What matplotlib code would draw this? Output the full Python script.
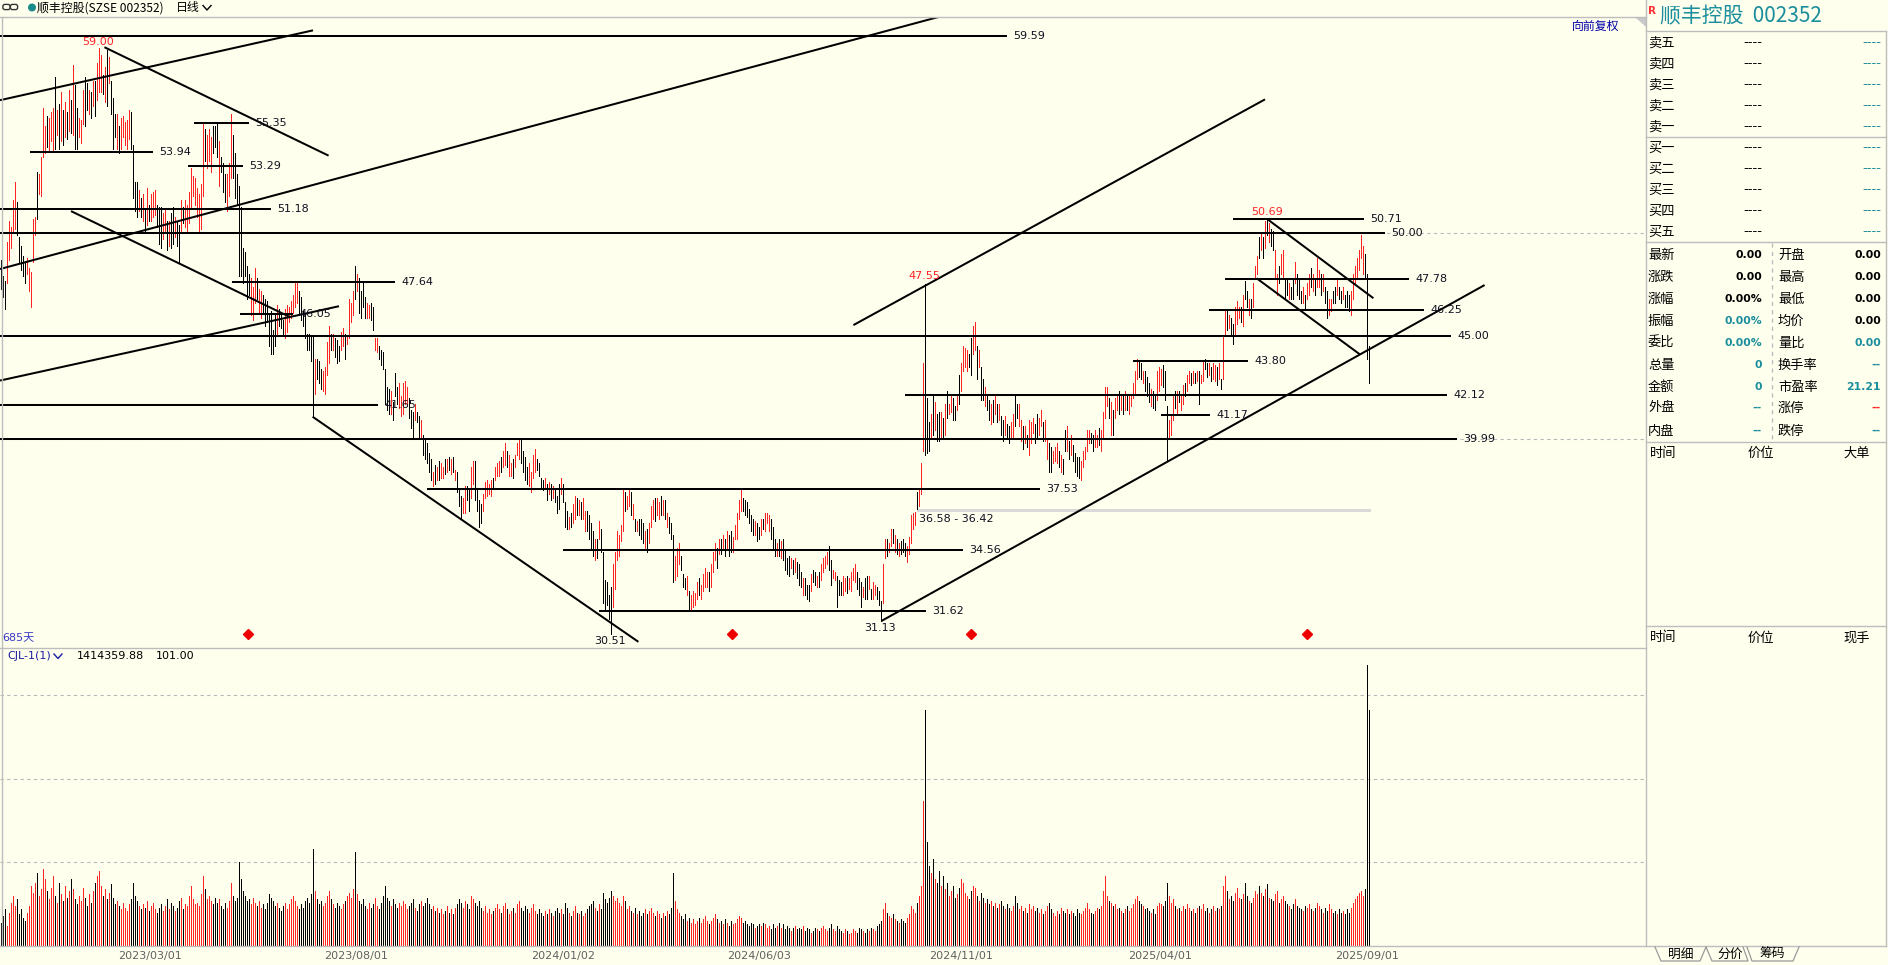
import matplotlib
matplotlib.use('Agg')
import matplotlib.pyplot as plt
from matplotlib.patches import Rectangle, Polygon, FancyBboxPatch, Circle

plt.rcParams['font.family'] = ['DejaVu Sans', 'Noto Sans CJK SC']

# ---------------- data ----------------
lows = [
47.3,46.9,46.3,47.6,48.7,49.3,50.0,50.2,49.9,48.6,
48.2,47.9,47.6,48.0,47.2,46.4,48.6,49.9,50.7,51.9,
51.8,53.7,53.9,54.2,54.0,54.5,54.0,54.1,54.8,54.1,
54.5,54.3,54.7,54.6,55.0,54.9,54.8,54.1,54.1,54.7,
54.4,55.3,55.2,56.0,55.8,55.6,56.2,55.7,56.5,56.9,
56.9,56.8,56.4,56.2,57.3,55.8,54.1,54.7,54.1,53.9,
54.1,54.7,54.3,54.1,54.6,54.1,51.7,51.1,50.8,51.1,
50.8,50.6,50.1,50.4,50.6,50.6,50.8,50.9,50.3,49.5,
49.3,49.7,50.0,49.2,49.4,49.3,49.5,49.8,49.4,48.6,
50.0,50.5,50.3,50.0,50.5,51.2,51.8,51.4,50.8,50.1,
50.2,51.8,53.5,53.2,53.5,53.0,53.9,54.2,53.7,52.3,
53.0,52.0,51.5,51.1,51.8,52.7,52.7,51.7,51.4,47.9,
47.9,47.6,47.9,46.8,47.0,46.0,45.8,46.6,46.8,46.1,
45.9,46.1,45.5,45.7,44.5,44.1,44.1,44.5,45.1,45.5,
45.4,45.0,44.9,45.2,45.7,45.9,46.1,46.4,46.6,46.1,
45.8,45.5,44.9,44.3,44.3,43.8,41.1,42.2,42.9,42.7,
42.4,42.3,42.2,43.1,43.7,44.3,44.3,44.0,43.7,43.8,
44.3,44.5,43.9,44.6,44.9,45.7,46.0,46.8,47.2,46.1,
45.9,46.4,45.9,45.9,45.9,45.8,45.3,44.3,44.2,43.9,
43.6,43.4,41.7,41.4,41.2,41.2,40.9,42.1,41.7,41.5,
41.1,41.2,41.7,41.6,41.0,40.5,40.1,40.9,40.8,40.0,
40.1,39.2,39.0,38.8,38.4,38.0,37.7,37.8,38.0,38.0,
38.1,38.1,38.3,38.4,38.5,38.3,38.4,38.0,37.4,36.7,
36.1,36.4,36.4,37.0,36.5,37.1,37.8,37.0,36.5,35.7,
35.9,36.5,37.1,37.2,37.3,37.2,37.6,38.0,38.2,38.2,
38.4,38.6,38.7,38.6,38.2,38.2,38.1,38.6,39.2,39.0,
38.8,38.4,38.0,37.8,37.7,37.4,38.1,38.4,38.5,38.2,
37.6,37.5,37.6,37.0,37.3,37.0,37.1,36.9,36.4,36.6,
37.3,36.9,35.7,35.6,35.6,35.7,35.9,36.1,36.3,36.3,
36.1,36.1,35.5,35.5,35.1,34.7,34.3,34.1,34.2,35.1,
34.5,32.0,31.7,31.9,31.2,30.51,31.8,32.7,34.1,34.3,
35.0,35.5,36.5,36.6,36.7,36.3,36.1,35.5,35.5,35.3,
35.1,34.9,34.7,34.5,34.9,35.7,36.1,36.0,36.3,36.1,
36.3,36.3,36.1,35.7,35.4,35.1,33.0,33.1,33.3,33.9,
33.6,32.8,32.7,32.4,31.7,31.6,31.8,31.9,32.2,32.4,
32.2,32.6,32.8,32.8,32.6,32.8,33.5,34.1,33.7,34.4,
34.4,34.6,34.3,34.7,34.3,34.5,34.5,35.1,35.1,36.1,
36.5,36.5,36.3,36.2,35.9,35.5,35.3,35.3,35.0,35.1,
35.3,35.6,35.5,35.9,35.5,35.1,34.7,34.3,34.3,34.3,
34.2,34.1,33.6,33.4,33.3,33.7,33.4,33.5,33.2,32.9,
32.8,32.4,32.4,32.2,32.1,32.6,33.0,32.9,32.8,32.8,
33.1,33.5,33.7,33.9,33.6,32.9,33.2,33.1,31.8,32.4,
32.4,32.4,32.6,32.5,32.7,32.6,33.1,33.0,32.7,32.4,
31.8,32.3,32.2,32.2,32.7,32.2,32.2,32.4,32.2,31.9,
31.13,32.0,34.2,34.3,34.5,34.8,34.9,34.5,34.4,34.3,
34.4,34.5,34.3,34.0,34.4,34.9,35.6,35.8,36.58,36.7,
37.3,39.4,39.2,39.3,39.4,40.0,40.2,40.4,39.9,39.9,
40.1,40.0,40.2,41.0,41.2,41.3,40.9,40.9,41.4,41.7,
42.3,43.3,43.5,43.3,43.5,43.1,44.1,44.3,42.9,43.5,
41.9,41.9,41.6,41.4,40.9,40.7,40.8,41.2,40.8,40.9,
40.2,39.9,40.2,40.0,39.8,40.0,40.0,40.6,41.0,40.6,
39.9,39.5,39.8,39.6,39.2,39.8,40.3,39.8,40.0,40.2,
40.6,39.9,39.9,39.0,38.4,38.4,38.8,38.9,38.8,38.6,
38.4,38.3,39.4,39.4,39.0,39.2,38.9,38.4,38.2,38.1,
38.0,38.6,39.0,39.4,39.8,39.8,39.4,39.6,39.6,39.7,
39.4,40.0,41.0,41.6,41.0,40.2,40.2,41.0,41.4,41.2,
41.4,41.2,41.4,41.4,41.2,41.6,42.0,42.2,42.9,43.0,
42.9,42.7,42.3,42.1,41.8,41.6,41.5,41.4,41.9,42.3,
42.6,42.5,41.9,38.9,40.0,40.2,40.9,41.5,41.2,41.8,
41.4,41.7,42.1,42.3,42.7,42.6,42.7,42.7,42.8,41.7,
42.7,42.8,43.4,43.0,43.1,42.8,42.9,42.8,42.6,42.9,
42.4,42.9,45.1,45.3,45.4,45.1,44.6,45.1,45.6,45.9,
45.7,45.5,46.8,46.4,46.0,45.9,46.4,47.8,48.0,48.8,
49.2,48.8,49.3,49.9,49.6,49.4,49.2,47.8,47.0,47.6,
48.0,47.8,46.8,47.0,46.8,46.8,46.8,47.6,47.0,46.8,
46.6,46.6,46.3,46.8,47.0,47.4,47.2,47.0,47.4,47.4,
47.0,47.2,46.6,45.9,46.0,46.2,46.6,46.6,47.0,46.8,
46.6,46.8,46.4,46.4,46.2,46.0,46.8,47.6,47.8,48.2,
48.8,48.0,47.8,43.9,42.7]

highs = [
48.7,47.9,47.7,49.6,50.6,50.3,51.6,52.5,51.5,49.8,
49.4,48.9,48.6,48.8,48.3,48.1,50.7,50.8,53.0,52.9,
53.7,56.1,55.2,55.7,55.6,55.9,56.1,57.6,56.0,56.3,
56.9,56.0,56.4,55.9,57.0,56.5,58.2,57.2,56.1,55.6,
55.5,57.0,57.6,57.3,57.0,56.9,57.4,57.4,58.3,59.0,
58.7,57.7,58.1,58.9,58.6,57.4,56.6,55.8,55.8,55.2,
55.6,55.7,55.4,55.5,56.0,55.9,54.3,52.5,52.5,52.1,
51.7,51.9,51.2,52.2,51.4,51.9,52.0,52.1,51.4,51.3,
51.3,51.0,51.2,50.6,50.6,51.0,51.3,50.8,50.6,50.4,
51.6,51.3,51.6,51.4,52.0,53.2,52.8,52.7,52.2,51.9,
52.4,55.3,55.1,54.8,55.1,54.7,55.2,55.2,55.3,54.5,
53.7,53.4,52.9,52.9,53.4,55.8,54.8,53.9,52.9,52.3,
51.3,49.3,49.1,48.4,48.0,47.8,47.4,48.3,47.8,47.3,
47.2,47.0,46.8,46.7,46.0,46.2,45.3,46.1,46.5,46.3,
46.0,45.8,46.3,46.5,46.4,46.7,47.0,47.6,47.7,47.2,
46.9,46.2,46.0,45.1,45.1,45.0,45.0,43.9,43.9,43.8,
43.4,43.3,43.5,44.7,45.5,45.1,45.1,44.9,44.8,44.5,
45.2,45.4,45.1,45.0,46.8,46.6,47.2,48.4,48.0,47.8,
47.2,47.7,46.9,46.6,46.5,46.6,46.4,44.9,44.9,44.5,
44.3,44.2,43.4,42.5,42.4,42.3,41.8,43.2,42.5,42.7,
42.1,42.7,42.8,42.5,42.0,41.4,41.3,41.7,41.3,41.1,
40.9,40.2,40.0,39.8,39.3,39.0,38.4,38.7,38.6,38.9,
38.8,38.6,39.0,39.0,39.1,39.0,39.1,38.5,38.4,37.5,
37.2,37.1,37.7,37.7,37.6,38.6,38.9,38.9,37.6,37.0,
36.8,37.3,37.9,38.0,37.8,38.0,38.1,38.6,38.8,38.9,
39.1,39.4,39.8,39.4,39.2,38.8,39.0,39.2,39.8,40.0,
40.0,39.4,39.1,38.6,38.8,38.4,39.2,39.5,39.0,38.8,
38.1,38.0,38.1,37.8,37.9,37.8,37.7,37.6,37.2,37.8,
38.1,37.8,36.9,36.5,36.2,36.4,36.8,37.2,37.1,37.0,
36.9,37.1,36.5,36.5,36.3,35.9,35.5,35.1,35.1,36.0,
35.6,34.5,33.1,33.0,32.4,32.8,33.9,34.5,35.5,35.3,
35.8,37.5,37.4,37.2,37.5,37.4,36.8,36.1,36.0,36.1,
36.1,35.9,35.5,35.6,35.9,36.7,37.0,37.1,37.1,36.9,
37.2,37.0,37.0,36.4,36.2,35.9,35.3,34.3,34.7,34.9,
34.3,33.4,33.2,33.3,32.6,32.4,32.6,32.5,33.0,33.2,
32.9,33.4,33.7,33.5,33.5,33.9,34.5,34.9,34.7,35.1,
35.1,35.3,35.1,35.5,35.3,35.5,35.2,35.8,36.4,37.0,
37.6,37.1,37.0,36.9,36.6,36.3,36.1,36.0,35.9,35.7,
36.1,36.1,36.4,36.4,36.3,36.1,35.7,35.1,34.9,35.1,
35.0,35.1,34.6,34.2,34.3,34.2,34.1,34.2,34.0,33.9,
33.5,33.2,33.2,32.9,32.9,33.4,33.6,33.5,33.3,33.5,
33.9,34.2,34.3,34.5,34.8,34.1,33.6,33.5,33.3,33.1,
33.0,33.3,33.2,33.3,33.2,33.5,33.7,33.9,33.5,33.2,
33.0,32.8,33.2,33.3,33.3,32.7,33.0,32.9,32.8,32.6,
32.1,33.9,35.1,35.1,34.9,35.6,35.6,35.3,35.1,34.9,
35.0,35.1,34.9,34.8,35.2,36.3,36.4,36.42,37.4,37.5,
38.8,43.7,47.55,42.0,40.8,41.2,42.1,41.8,41.2,41.3,
41.3,41.0,41.7,42.3,41.7,42.1,42.0,41.6,42.1,43.1,
43.7,44.5,44.4,44.3,44.1,44.9,45.5,45.7,44.5,44.3,
43.5,42.9,42.5,42.1,41.9,41.7,41.9,42.1,41.7,41.7,
41.1,40.9,41.1,40.7,40.6,40.8,41.2,42.2,41.7,41.7,
40.9,40.6,40.6,40.2,40.9,40.8,41.0,40.7,41.2,41.0,
41.4,40.8,40.9,40.0,39.8,39.6,39.4,39.6,39.8,39.4,
39.2,39.0,40.4,40.6,39.9,40.2,39.7,39.3,39.1,39.1,
38.9,39.4,39.6,40.4,40.4,40.3,40.2,40.4,40.2,40.5,
40.4,41.3,42.5,42.5,42.0,41.8,41.4,42.0,42.2,42.3,
42.2,42.1,42.3,42.1,42.1,42.2,42.7,43.3,43.9,43.8,
43.7,43.3,43.3,43.0,42.7,42.4,42.3,42.1,43.3,43.5,
43.4,43.6,43.3,41.6,40.9,41.2,42.1,42.3,42.3,42.3,
42.1,42.6,42.7,43.1,43.3,43.2,43.3,43.2,43.3,43.3,
43.1,43.8,43.9,43.7,43.7,43.5,43.7,43.6,43.5,43.7,
42.9,45.0,46.2,46.2,46.0,45.9,45.6,46.4,46.7,46.4,
46.4,47.0,47.7,47.2,46.8,46.8,47.6,48.4,48.9,49.8,
50.0,49.8,50.6,50.69,50.5,50.2,50.1,49.2,48.0,48.4,
49.0,49.2,47.8,47.8,47.6,47.4,47.8,48.6,48.0,47.8,
47.2,47.4,47.0,47.6,48.0,48.3,48.0,47.8,48.8,48.2,
48.0,48.0,47.4,47.2,46.8,46.8,47.2,47.4,47.8,47.4,
47.2,47.4,47.0,47.2,47.0,47.2,48.0,48.4,48.8,49.2,
49.9,49.4,49.0,48.0,44.5]

dirs = ("kkkrrrrrkk" "kkkrrrrrkr" "rrrkrrrkrk" "rkrkrkrkkr" "rrkkrkrkrr"
        "rkrkrkkkrk" "rrrrrkkkkr" "krkrkrrrkk" "krrkrkkrkk" "rkrrrrrrrr"
        "rrkrrrkkkr" "kkkrrrkkkk" "kkkkkrrrkr" "rkkkkkkkrk" "kkrrrrrrrk"
        "kkkkkkkrkk" "krrrrkrkkk" "rrkrrrrkrk" "kkkrrkkrrk" "kkkkkrkkkr"
        "rrrrkkkrkk" "rkkkkkrkrk" "rrkrkrkrkk" "krrkkrrkkk" "krrrrrkrrr"
        "krrkrrkrrr" "kkkkrrrrkk" "kkrkrkrkkk" "rkkkrkrrkr" "krrkkkkrkr"
        "kkkkkkrrrr" "rrkrrkrkrk" "kkrkrrrkrr" "krkrkkkrrr" "kkkrkrrrrk"
        "rrrrkrrrkr" "krkrkkrrrr" "rkkkkkkrkk" "rkrrrkkkrk" "rkkkkrkrkk"
        "krkkkrkkrk" "rrrrkkrrkk" "krrkrrrrkk" "krkkrkrrkk" "krrkrrkrkr"
        "kkkrrrrrkr" "rrkkkrkrkk" "rkrkrrkkrk" "rrrrkkrrkr" "kkrkkrkrkr"
        "kkrkkrrkkr" "rkrkrrrkkr" "rkrrkkrrrk" "rkkrkrkkkk" "rrrrrkkrrk"
        "rrrrkrkrrk" "rkrkrrrrrk" "krkkkrkkrr" "rkkkrrrkrk" "rrkrrkrkrk"
        "rrkkrkrrkr" "krrkrkkrrr" "krkkrkrrrk" "rkrkrkkrrk" "rrkkrkkrkk"
        "krkrrkrkrr" "krkkrrkkrk" "krkkkrrrrr" "rrkkk")

# volume, in units of 10,000
volume = [
14,18,22,12,20,26,30,24,28,19, 22,17,15,20,24,36,32,38,44,30,
34,46,40,33,28,35,42,30,26,38, 31,27,36,29,33,40,34,28,25,30,
27,35,29,24,31,26,33,38,42,45, 36,30,34,28,32,37,29,25,27,24,
22,26,23,21,25,28,38,30,27,24, 22,25,23,27,21,24,26,22,20,23,
25,21,24,28,22,26,24,21,23,27, 29,22,25,24,30,36,28,25,26,24,
31,42,34,28,30,27,25,29,26,28, 24,22,26,23,27,38,30,27,29,50,
40,33,30,27,28,25,29,26,24,27, 23,25,22,26,31,29,27,24,26,23,
21,24,26,22,25,28,30,27,24,22, 25,23,27,29,26,31,58,33,28,25,
27,24,26,30,33,28,25,23,26,24, 22,25,27,30,32,29,34,56,31,27,
25,28,24,22,26,23,25,29,24,22, 26,30,36,29,27,24,28,25,23,26,
24,27,25,22,24,26,28,23,21,25, 27,24,26,29,25,22,24,21,23,20,
22,19,21,24,20,22,19,23,25,28, 26,23,27,25,22,30,28,26,24,27,
23,21,24,20,22,19,21,23,25,22, 20,24,26,22,19,21,23,20,25,27,
23,21,24,22,20,23,25,21,19,22, 20,18,21,19,22,20,18,21,23,20,
22,19,26,23,20,18,21,24,20,19, 21,18,20,22,24,25,27,23,21,25,
22,32,28,26,29,33,30,27,29,26, 24,30,27,22,24,21,20,23,19,21,
18,20,22,19,21,23,20,18,21,19, 17,20,18,21,19,23,44,27,22,20,
18,16,19,15,17,14,16,13,15,17, 14,16,18,15,13,15,17,19,16,14,
15,13,16,14,12,15,13,14,16,18, 17,14,15,13,12,14,13,11,12,13,
12,14,13,11,12,10,13,11,12,14, 11,13,10,12,11,9,11,12,10,11,
10,12,9,11,10,8,9,11,10,9, 11,12,10,9,11,13,10,9,12,10,
9,8,10,9,7,8,10,9,8,11, 10,9,8,10,9,11,10,9,12,13,
15,22,26,20,18,17,19,16,15,14, 16,15,14,17,19,24,22,20,26,30,
36,87,141,62,48,44,52,40,38,45, 36,42,34,38,30,33,36,29,31,35,
40,38,32,30,28,33,36,35,30,27, 32,29,26,28,25,27,24,26,23,25,
27,24,22,25,23,21,24,30,26,22, 24,21,23,20,25,22,24,21,23,20,
22,19,21,24,26,22,20,18,21,19, 23,21,20,22,19,21,20,18,22,20,
19,21,23,26,22,20,19,21,23,22, 24,33,42,30,27,26,24,25,22,23,
21,20,22,24,21,23,25,28,30,27, 25,24,22,23,21,20,22,19,24,26,
25,24,27,38,30,26,28,24,22,23, 21,24,22,25,23,21,22,20,23,24,
22,25,21,23,20,22,24,21,23,22, 24,36,42,33,28,30,27,32,35,29,
28,31,38,30,27,26,29,33,31,36, 32,30,34,37,29,28,27,31,33,26,
28,30,27,25,24,22,25,28,24,23, 22,21,24,23,25,22,21,23,26,24,
22,20,23,21,25,22,20,21,19,22, 20,21,19,22,20,23,26,28,30,32,
33,30,34,168,141.44]

date_labels = ['2023/03/01', '2023/08/01', '2024/01/02', '2024/06/03',
               '2024/11/01', '2025/04/01', '2025/09/01']
date_bars = [74.5, 177.5, 281, 379, 480, 579.5, 683]

# horizontal drawn levels: (start bar, end bar, price)
hlevels = [(-0.5, 503, 59.59), (14.5, 76, 53.94), (96.5, 124, 55.35),
           (93.5, 121, 53.29), (-0.5, 135, 51.18), (-0.5, 692, 50.00),
           (115.5, 197, 47.64), (119.5, 146, 46.05), (-0.5, 725, 45.00),
           (-0.5, 188.5, 41.65), (-0.5, 728, 39.99), (213, 519.5, 37.53),
           (281, 481, 34.56), (299, 462.5, 31.62), (452, 723, 42.12),
           (616, 681.5, 50.71), (612, 704, 47.78), (604, 711.5, 46.25),
           (566, 623.5, 43.80), (580, 604.5, 41.17)]

# trend lines: (bar0, price0, bar1, price1)
trends = [(-0.5, 56.48, 156, 59.88), (51.7, 59.06, 163.8, 53.78),
          (-0.5, 48.26, 468.7, 60.53), (35, 51.08, 144.5, 45.92),
          (-0.5, 42.83, 169, 46.45), (155.8, 41.07, 318.7, 30.11),
          (426.2, 45.53, 632, 56.52), (440.3, 31.13, 741.8, 47.48),
          (633.7, 50.65, 686.2, 46.84), (627.8, 47.81, 679.5, 44.10)]

peak_marks = [(48.3, 59.30, '59.00'), (461.5, 47.92, '47.55'), (632.8, 51.06, '50.69')]
trough_marks = [(304.6, 30.15, '30.51'), (439.6, 30.76, '31.13')]
event_bars = [123.5, 365.5, 485, 653]

# ---------------- styling ----------------
W, H = 1888, 965
BG = '#ffffee'
RED = '#ff2424'
TEAL = '#1a8e9c'
FRAME = '#bdbdbd'
CJK = ['Noto Sans CJK SC']

fig = plt.figure(figsize=(W / 100, H / 100), dpi=100, facecolor=BG)

def px_axes(x0, y0, x1, y1, z=1):
    a = fig.add_axes([x0 / W, 1 - y1 / H, (x1 - x0) / W, (y1 - y0) / H], zorder=z)
    a.axis('off')
    return a

n = min(len(lows), len(highs), len(dirs), len(volume))
idx = list(range(n))
cols = [RED if dirs[i] == 'r' else '#000000' for i in idx]

# price panel
ax = px_axes(0, 17, 1646, 648)
ax.set_xlim(-0.5, 822.5)
ax.set_ylim(29.81, 60.53)
for g in (40.0, 50.0):
    ax.axhline(g, color='#b8b8b8', lw=0.8, ls=(0, (3, 3)), zorder=0)
ax.vlines(idx, lows[:n], highs[:n], colors=cols, lw=0.5, antialiased=False, zorder=2)

for x0, x1, p in hlevels:
    ax.plot([x0, x1], [p, p], color='#000000', lw=1.45, solid_capstyle='butt', zorder=3)
    ax.text(x1 + 3.2, p, f'{p:.2f}', fontsize=8, color='#101020', va='center', ha='left', zorder=4)
for b0, p0, b1, p1 in trends:
    ax.plot([b0, b1], [p0, p1], color='#000000', lw=1.45, solid_capstyle='butt', zorder=3)
ax.add_patch(Rectangle((457.8, 36.42), 685 - 457.8, 0.16, facecolor='#d9d9d9', edgecolor='none', zorder=1))
ax.text(459, 36.09, '36.58 - 36.42', fontsize=8, color='#101020', va='center', ha='left', zorder=4)
for b, p, s in peak_marks:
    ax.text(b, p, s, fontsize=8, color=RED, ha='center', va='center', zorder=4)
for b, p, s in trough_marks:
    ax.text(b, p, s, fontsize=8, color='#101020', ha='center', va='center', zorder=4)
ax.plot(event_bars, [0.022] * len(event_bars), ls='none', marker='D', ms=5.5, color='#ee0000',
        transform=ax.get_xaxis_transform(), clip_on=False, zorder=4)

# volume panel
axv = px_axes(0, 648, 1646, 946)
axv.set_xlim(-0.5, 822.5)
axv.set_ylim(0, 178.4)
for g in (50, 100, 150):
    axv.axhline(g, color='#b8b8b8', lw=0.8, ls=(0, (3, 3)), zorder=0)
axv.vlines(idx, 0, volume[:n], colors=cols, lw=0.5, antialiased=False, zorder=2)
for b, s in zip(date_bars, date_labels):
    axv.text(b, -0.034, s, transform=axv.get_xaxis_transform(), fontsize=8, color='#606060',
             ha='center', va='center')

# overlay (frames, headers, right-hand quote panel)
ov = px_axes(0, 0, W, H, z=5)
ov.set_xlim(0, W)
ov.set_ylim(H, 0)

def hline(y, x0, x1, **kw):
    ov.plot([x0, x1], [y, y], color=kw.get('c', FRAME), lw=kw.get('lw', 1.0), ls=kw.get('ls', '-'))

def vline(x, y0, y1, **kw):
    ov.plot([x, x], [y0, y1], color=kw.get('c', FRAME), lw=kw.get('lw', 1.0), ls=kw.get('ls', '-'))

hline(17, 0, 1646)
hline(648, 0, 1646)
hline(946, 0, 1886)
vline(1.5, 17, 946)
vline(1646, 0, 946)
vline(1886, 31, 946)
for y in (31, 137, 242, 442, 626):
    hline(y, 1646, 1886)
vline(1772, 243, 441, ls=(0, (3, 3)))
ov.add_patch(Polygon([(1636, 17.5), (1645.5, 17.5), (1645.5, 27)], closed=True,
                     facecolor='#c8c8c8', edgecolor='none'))

# top-left header
ov.add_patch(FancyBboxPatch((3.5, 5), 6, 4, boxstyle='round,pad=0.6,rounding_size=2',
                            fill=False, ec='#333333', lw=1.0))
ov.add_patch(FancyBboxPatch((11, 5), 6, 4, boxstyle='round,pad=0.6,rounding_size=2',
                            fill=False, ec='#333333', lw=1.0))
ov.add_patch(Circle((32, 7.5), 3.3, color='#1a8a8a'))
ov.text(37, 8, '顺丰控股(SZSE 002352)', family=CJK, fontsize=8.6, color='#000000', va='center', ha='left')
ov.text(176, 8, '日线', family=CJK, fontsize=8.6, color='#000000', va='center', ha='left')
ov.plot([203, 207, 211], [5.5, 10, 5.5], color='#000000', lw=1.0)
ov.text(1572, 26, '向前复权', family=CJK, fontsize=8.6, color='#0000a8', va='center', ha='left')

ov.text(2, 638, '685天', family=['DejaVu Sans', 'Noto Sans CJK SC'], fontsize=8, color='#3a3ac8',
        va='center', ha='left')
ov.text(7, 656, 'CJL-1(1)', fontsize=8, color='#1c1ca0', va='center', ha='left')
ov.plot([54, 58, 62], [654, 658.5, 654], color='#1c1ca0', lw=1.0)
ov.text(77, 656, '1414359.88', fontsize=8, color='#000000', va='center', ha='left')
ov.text(156, 656, '101.00', fontsize=8, color='#000000', va='center', ha='left')

# right panel: title
ov.text(1648, 11, 'R', fontsize=7.5, color='#ff3030', fontweight='bold', va='center', ha='left')
ov.text(1660, 16, '顺丰控股  002352', family=CJK, fontsize=15, color=TEAL, va='center', ha='left')

# order book
book = ['卖五', '卖四', '卖三', '卖二', '卖一', '买一', '买二', '买三', '买四', '买五']
book_y = [43, 64, 85, 106, 127, 148, 169, 190, 211, 232]
for s, y in zip(book, book_y):
    ov.text(1648, y, s, family=CJK, fontsize=9.5, color='#000000', va='center', ha='left')
    ov.text(1762, y, '----', fontsize=9.5, color='#000000', va='center', ha='right')
    ov.text(1881, y, '----', fontsize=9.5, color=TEAL, va='center', ha='right')

# statistics
stat_y = [255, 277, 299, 321, 343, 365, 387, 408, 431]
left_lab = ['最新', '涨跌', '涨幅', '振幅', '委比', '总量', '金额', '外盘', '内盘']
left_val = ['0.00', '0.00', '0.00%', '0.00%', '0.00%', '0', '0', '--', '--']
left_col = ['k', 'k', 'k', 't', 't', 't', 't', 't', 't']
right_lab = ['开盘', '最高', '最低', '均价', '量比', '换手率', '市盈率', '涨停', '跌停']
right_val = ['0.00', '0.00', '0.00', '0.00', '0.00', '--', '21.21', '--', '--']
right_col = ['k', 'k', 'k', 'k', 't', 't', 't', 'r', 't']
cmap = {'k': '#000000', 't': TEAL, 'r': '#ff2020'}
for y, a, b, c, d, e, f in zip(stat_y, left_lab, left_val, left_col, right_lab, right_val, right_col):
    ov.text(1648, y, a, family=CJK, fontsize=9.5, color='#000000', va='center', ha='left')
    ov.text(1762, y, b, fontsize=7.8, fontweight='bold', color=cmap[c], va='center', ha='right')
    ov.text(1778, y, d, family=CJK, fontsize=9.5, color='#000000', va='center', ha='left')
    ov.text(1881, y, e, fontsize=7.8, fontweight='bold', color=cmap[f], va='center', ha='right')

for y, last in ((453, '大单'), (638, '现手')):
    ov.text(1650, y, '时间', family=CJK, fontsize=9.5, color='#000000', va='center', ha='left')
    ov.text(1761, y, '价位', family=CJK, fontsize=9.5, color='#000000', va='center', ha='center')
    ov.text(1870, y, last, family=CJK, fontsize=9.5, color='#000000', va='center', ha='right')

# bottom tabs
tabs = [((1655, 947), (1661, 961), (1700, 961), (1706, 947), '明细'),
        ((1706, 947), (1712, 961), (1748, 961), (1743, 947), '分价'),
        ((1747, 947), (1752, 961), (1793, 961), (1799, 947), '筹码')]
for p0, p1, p2, p3, s in tabs:
    ov.plot([p0[0], p1[0], p2[0], p3[0]], [p0[1], p1[1], p2[1], p3[1]], color='#9a9a9a', lw=0.9)
    ov.text((p1[0] + p2[0]) / 2, 954, s, family=CJK, fontsize=9.2, color='#000000',
            va='center', ha='center')

fig.savefig('out.png', dpi=100, facecolor=BG)
